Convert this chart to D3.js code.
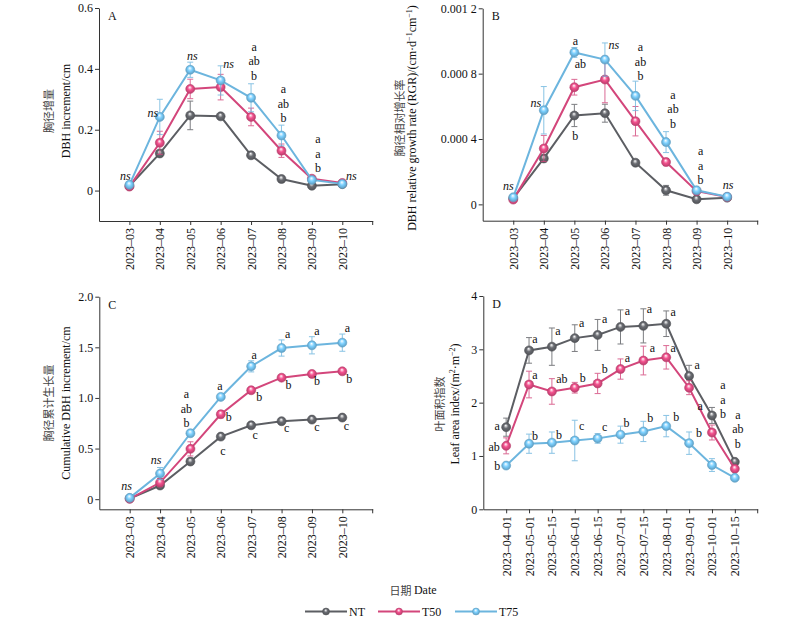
<!DOCTYPE html>
<html lang="zh">
<head>
<meta charset="UTF-8">
<title>DBH_LAI</title>
<script src="https://cdn.jsdelivr.net/npm/d3@7"></script>
<style>
  body { margin: 0; background: #fff; }
  text { font-family: "Liberation Serif", "DejaVu Serif", serif; fill: #111; }
  .zh { font-family: "Noto Sans CJK SC", sans-serif; fill: #444; }
</style>
</head>
<body>
<div id="chart"></div>
<script>
// ---- data ----
const months = ['2023–03', '2023–04', '2023–05', '2023–06', '2023–07', '2023–08', '2023–09', '2023–10'];
const laiDates = ['2023–04–01', '2023–05–01', '2023–05–15', '2023–06–01', '2023–06–15', '2023–07–01',
  '2023–07–15', '2023–08–01', '2023–09–01', '2023–10–01', '2023–10–15'];
const seriesNames = ['NT', 'T50', 'T75'];

// A: DBH increment (cm)
const incNT = [0.015, 0.122, 0.247, 0.244, 0.116, 0.038, 0.016, 0.021];
const incNTerr = [0.003, 0.005, 0.047, 0.005, 0.004, 0.006, 0.003, 0.002];
const incT50 = [0.013, 0.157, 0.334, 0.340, 0.242, 0.131, 0.039, 0.025];
const incT50err = [0.003, 0.038, 0.032, 0.042, 0.029, 0.022, 0.004, 0.003];
const incT75 = [0.019, 0.242, 0.397, 0.362, 0.305, 0.181, 0.035, 0.022];
const incT75err = [0.003, 0.058, 0.025, 0.048, 0.046, 0.034, 0.005, 0.003];

// B: relative growth rate
const rgrNT = [0.000037, 0.000281, 0.000544, 0.000558, 0.000255, 0.000086, 0.000031, 0.000041];
const rgrNTerr = [0.000005, 0.00002, 0.000068, 0.000055, 0.00001, 0.00003, 0.000005, 0.000005];
const rgrT50 = [0.000029, 0.000342, 0.000717, 0.000764, 0.000509, 0.000259, 0.000081, 0.000045];
const rgrT50err = [0.000005, 0.00008, 0.000048, 0.000142, 0.00009, 0.000022, 0.00001, 0.000005];
const rgrT75 = [0.000043, 0.000576, 0.00093, 0.000886, 0.000664, 0.000381, 0.000086, 0.000047];
const rgrT75err = [0.000005, 0.000145, 0.00003, 0.000102, 0.00009, 0.000064, 0.00001, 0.000005];

// C: cumulative DBH increment (cm)
const cumNT = [0.007, 0.135, 0.372, 0.618, 0.730, 0.770, 0.786, 0.806];
const cumNTerr = [0.005, 0.01, 0.03, 0.015, 0.015, 0.015, 0.015, 0.015];
const cumT50 = [0.003, 0.164, 0.497, 0.839, 1.076, 1.200, 1.237, 1.263];
const cumT50err = [0.005, 0.04, 0.07, 0.035, 0.02, 0.015, 0.015, 0.015];
const cumT75 = [0.013, 0.253, 0.651, 1.010, 1.312, 1.493, 1.520, 1.546];
const cumT75err = [0.005, 0.06, 0.02, 0.02, 0.055, 0.08, 0.085, 0.085];

// D: leaf area index
const laiNT = [1.54, 2.98, 3.05, 3.21, 3.27, 3.42, 3.44, 3.48, 2.50, 1.76, 0.89];
const laiNTerr = [0.17, 0.24, 0.35, 0.25, 0.29, 0.32, 0.32, 0.24, 0.20, 0.15, 0.03];
const laiT50 = [1.19, 2.34, 2.21, 2.28, 2.36, 2.63, 2.79, 2.85, 2.28, 1.44, 0.76];
const laiT50err = [0.15, 0.25, 0.24, 0.10, 0.19, 0.19, 0.27, 0.22, 0.13, 0.14, 0.03];
const laiT75 = [0.82, 1.23, 1.25, 1.29, 1.33, 1.40, 1.46, 1.56, 1.24, 0.83, 0.59];
const laiT75err = [0.05, 0.18, 0.20, 0.38, 0.09, 0.16, 0.19, 0.20, 0.21, 0.12, 0.02];

const ticksA = [0, 0.2, 0.4, 0.6];
const ticksB = [0, 0.0004, 0.0008, 0.0012];
const tickLabelsB = ['0', '0.000 4', '0.000 8', '0.001 2'];
const ticksC = [0, 0.5, 1.0, 1.5, 2.0];
const ticksD = [0, 1, 2, 3, 4];

// ---- chart ----
const width = 800, height = 619;
const colors = ['#5c5e63', '#d3467b', '#6cb5de'];

const svg = d3.select('#chart').append('svg')
  .attr('width', width)
  .attr('height', height);

// sphere-like markers
const defs = svg.append('defs');
colors.forEach((c, k) => {
  const gr = defs.append('radialGradient').attr('id', 'ball' + k)
    .attr('cx', '50%').attr('cy', '50%').attr('r', '55%')
    .attr('fx', '45%').attr('fy', '30%');
  gr.append('stop').attr('offset', '0%').attr('stop-color', '#fff');
  gr.append('stop').attr('offset', '45%').attr('stop-color', d3.color(c).brighter(0.4));
  gr.append('stop').attr('offset', '100%').attr('stop-color', d3.color(c).darker(0.5));
});

function panel(o) {
  const n = o.cats.length;
  const x = d3.scaleLinear().domain([-1, n]).range([o.x0, o.x1]);
  const y = d3.scaleLinear().domain(o.yDomain).range([o.y1, o.y0]);
  const g = svg.append('g');

  // x axis
  const xa = g.append('g')
    .attr('transform', `translate(0,${o.y1})`)
    .call(d3.axisBottom(x).tickValues(d3.range(n)).tickFormat(i => o.cats[i]).tickSize(4).tickSizeOuter(0));
  xa.append('line').attr('x1', o.x1).attr('x2', o.x1).attr('y1', 0).attr('y2', 4).attr('stroke', 'currentColor');
  xa.attr('font-family', null).attr('font-size', 12).attr('color', '#333');
  xa.selectAll('.tick text')
    .attr('transform', 'rotate(-90)')
    .attr('text-anchor', 'end')
    .attr('x', -7).attr('y', 0).attr('dy', '0.33em');

  // y axis
  const ya = g.append('g')
    .attr('transform', `translate(${o.x0},0)`)
    .call(d3.axisLeft(y).tickValues(o.yTicks).tickFormat((d, i) => o.yFmt(d, i)).tickSize(4).tickSizeOuter(0));
  ya.attr('font-family', null).attr('font-size', 12).attr('color', '#333');
  ya.selectAll('.tick text').attr('x', -6);

  // series
  const line = d3.line().x((d, i) => x(i)).y(d => y(d));
  o.vals.forEach((vals, s) => {
    const errs = o.errs[s];
    const eb = g.append('g').attr('stroke', colors[s]).attr('stroke-width', 1).attr('opacity', 0.8);
    vals.forEach((v, i) => {
      const xt = x(i), yt = y(v + errs[i]), yb = y(v - errs[i]);
      eb.append('line').attr('x1', xt).attr('x2', xt).attr('y1', yt).attr('y2', yb);
      eb.append('line').attr('x1', xt - 3).attr('x2', xt + 3).attr('y1', yt).attr('y2', yt);
      eb.append('line').attr('x1', xt - 3).attr('x2', xt + 3).attr('y1', yb).attr('y2', yb);
    });
    g.append('path').datum(vals)
      .attr('d', line)
      .attr('fill', 'none')
      .attr('stroke', colors[s])
      .attr('stroke-width', 2);
    g.selectAll(null).data(vals).join('circle')
      .attr('cx', (d, i) => x(i))
      .attr('cy', d => y(d))
      .attr('r', 4.5)
      .attr('fill', `url(#ball${s})`)
      .attr('stroke', d3.color(colors[s]).darker(0.3))
      .attr('stroke-width', 0.6);
  });

  // significance letters
  o.notes.forEach(([i, s, t, dx, dy, ref]) => {
    const v = o.vals[s][i] + (ref === 'c' ? o.errs[s][i] : 0);
    const px = x(i) + dx, py = y(v) + dy;
    const list = Array.isArray(t) ? t.slice().reverse() : [t];
    list.forEach((txt, k) => {
      g.append('text')
        .attr('x', px).attr('y', py - k * 14.5)
        .attr('text-anchor', 'middle')
        .attr('dominant-baseline', 'central')
        .attr('font-size', 12)
        .attr('font-style', txt === 'ns' ? 'italic' : 'normal')
        .text(txt);
    });
  });

  // panel letter
  g.append('text').attr('x', o.x0 + 9).attr('y', o.y0 + 8)
    .attr('dominant-baseline', 'central').attr('font-size', 12).text(o.letter);

  // y titles
  const cy = o.titleY;
  g.append('text').attr('class', 'zh')
    .attr('transform', `translate(${o.zhX},${cy}) rotate(-90)`)
    .attr('text-anchor', 'middle').attr('dominant-baseline', 'central')
    .attr('font-size', 11).text(o.zh);
  const en = g.append('text')
    .attr('transform', `translate(${o.enX},${cy}) rotate(-90)`)
    .attr('text-anchor', 'middle').attr('dominant-baseline', 'central')
    .attr('font-size', 12);
  o.en.forEach(([txt, sup]) => {
    en.append('tspan').attr('baseline-shift', sup ? '35%' : null)
      .attr('font-size', sup ? 8 : null).text(txt);
  });
}

panel({
  letter: 'A', cats: months, x0: 99, x1: 372.7, y0: 8, y1: 221, yDomain: [-0.1, 0.6],
  yTicks: ticksA, yFmt: d => d === 0 ? '0' : d3.format('.1f')(d),
  vals: [incNT, incT50, incT75], errs: [incNTerr, incT50err, incT75err],
  zh: '胸径增量', zhX: 47.5, enX: 65.5, titleY: 111,
  en: [['DBH increment/cm']],
  notes: [
    [0, 2, 'ns', -4, -9, 'p'], [1, 2, 'ns', -7, -4, 'p'], [2, 2, 'ns', 2, -6, 'c'], [3, 2, 'ns', 8, -2, 'c'],
    [4, 2, ['a', 'ab', 'b'], 3, -8, 'c'], [5, 2, ['a', 'ab', 'b'], 2, -7, 'c'],
    [6, 1, ['a', 'a', 'b'], 6, -9, 'c'], [7, 1, 'ns', 9, -7, 'p']
  ]
});

panel({
  letter: 'B', cats: months, x0: 482.7, x1: 757.7, y0: 8.3, y1: 220.7, yDomain: [-0.0001, 0.0012],
  yTicks: ticksB, yFmt: (d, i) => tickLabelsB[i],
  vals: [rgrNT, rgrT50, rgrT75], errs: [rgrNTerr, rgrT50err, rgrT75err],
  zh: '胸径相对增长率', zhX: 398.5, enX: 412, titleY: 118,
  en: [['DBH relative growth rate (RGR)/(cm·d'], ['−1', true], ['cm'], ['−1', true], [')']],
  notes: [
    [0, 2, 'ns', -5, -11, 'p'], [1, 2, 'ns', -8, -7, 'p'],
    [2, 2, 'a', 1, -11, 'p'], [2, 2, 'ab', 6, 12, 'p'], [2, 0, 'b', 1, 21, 'p'],
    [3, 2, 'ns', 9, 2, 'c'],
    [4, 2, ['a', 'ab', 'b'], 5, -5, 'c'], [5, 2, ['a', 'ab', 'b'], 7, -8, 'c'],
    [6, 1, ['a', 'a', 'b'], 4, -9, 'c'], [7, 2, 'ns', 1, -12, 'p']
  ]
});

panel({
  letter: 'C', cats: months, x0: 99.3, x1: 372.7, y0: 296.7, y1: 509.3, yDomain: [-0.1, 2.0],
  yTicks: ticksC, yFmt: d => d === 0 ? '0' : d3.format('.1f')(d),
  vals: [cumNT, cumT50, cumT75], errs: [cumNTerr, cumT50err, cumT75err],
  zh: '胸径累计生长量', zhX: 47.5, enX: 65.5, titleY: 403,
  en: [['Cumulative DBH increment/cm']],
  notes: [
    [0, 2, 'ns', -3, -12, 'p'], [1, 2, 'ns', -4, -7, 'c'], [2, 2, ['a', 'ab', 'b'], -4, -10, 'p'],
    [3, 2, 'a', -1, -11, 'p'], [3, 1, 'b', 8, 3, 'p'], [3, 0, 'c', 2, 14, 'p'],
    [4, 2, 'a', 3, -6, 'c'], [4, 1, 'b', 8, 7, 'p'], [4, 0, 'c', 4, 10, 'p'],
    [5, 2, 'a', 6, -6, 'c'], [5, 1, 'b', 7, 7, 'p'], [5, 0, 'c', 5, 7, 'p'],
    [6, 2, 'a', 5, -6, 'c'], [6, 1, 'b', 5, 7, 'p'], [6, 0, 'c', 5, 7, 'p'],
    [7, 2, 'a', 5, -6, 'c'], [7, 1, 'b', 7, 8, 'p'], [7, 0, 'c', 4, 8, 'p']
  ]
});

panel({
  letter: 'D', cats: laiDates, x0: 483.3, x1: 757.7, y0: 296, y1: 509.3, yDomain: [0, 4],
  yTicks: ticksD, yFmt: d => String(d),
  vals: [laiNT, laiT50, laiT75], errs: [laiNTerr, laiT50err, laiT75err],
  zh: '叶面积指数', zhX: 439, enX: 455, titleY: 404,
  en: [['Leaf area index/(m'], ['2', true], ['·m'], ['−2', true], [')']],
  notes: [
    [0, 0, 'a', -9, -1, 'p'], [1, 0, 'a', 6, 1, 'c'], [2, 0, 'a', 6, 3, 'c'], [3, 0, 'a', 7, -2, 'c'],
    [4, 0, 'a', 7, 0, 'c'], [5, 0, 'a', 7, 1, 'c'], [6, 0, 'a', 6, 0, 'c'], [7, 0, 'a', 7, 1, 'c'],
    [8, 0, 'a', 8, 0, 'c'], [9, 0, ['a', 'a', 'b'], 11, -1, 'p'], [10, 0, ['a', 'ab', 'b'], 3, -18, 'p'],
    [0, 1, 'ab', -12, 1, 'p'], [1, 1, 'a', 6, 4, 'c'], [2, 1, 'ab', 10, 0, 'c'], [3, 1, 'b', 8, -4, 'c'],
    [4, 1, 'b', 7, -4, 'c'], [5, 1, 'a', 7, -1, 'c'], [6, 1, 'a', 9, 2, 'c'], [7, 1, 'a', 7, 2, 'c'],
    [8, 1, 'a', 11, 18, 'p'],
    [0, 2, 'b', -9, 0, 'p'], [1, 2, 'b', 6, 2, 'c'], [2, 2, 'b', 7, 3, 'c'], [3, 2, 'c', 7, 6, 'c'],
    [4, 2, 'c', 7, -7, 'c'], [5, 2, 'b', 6, -3, 'c'], [6, 2, 'b', 7, -3, 'c'], [7, 2, 'b', 10, 2, 'c'],
    [8, 2, 'b', 10, 1, 'c']
  ]
});

// x title
const xt = svg.append('text').attr('x', 413).attr('y', 590)
  .attr('text-anchor', 'middle').attr('dominant-baseline', 'central').attr('font-size', 12);
xt.append('tspan').attr('class', 'zh').attr('font-size', 11).text('日期 ');
xt.append('tspan').text('Date');

// legend
const legX = [305, 378, 455];
const lg = svg.append('g').attr('transform', 'translate(0,611.5)');
seriesNames.forEach((name, s) => {
  const x0 = legX[s];
  lg.append('line').attr('x1', x0).attr('x2', x0 + 42).attr('y1', 0).attr('y2', 0)
    .attr('stroke', colors[s]).attr('stroke-width', 2);
  lg.append('circle').attr('cx', x0 + 21).attr('cy', 0).attr('r', 3.5)
    .attr('fill', `url(#ball${s})`).attr('stroke', d3.color(colors[s]).darker(0.3)).attr('stroke-width', 0.5);
  lg.append('text').attr('x', x0 + 44).attr('y', 0).attr('dominant-baseline', 'central')
    .attr('font-size', 12).text(name);
});
</script>
</body>
</html>
